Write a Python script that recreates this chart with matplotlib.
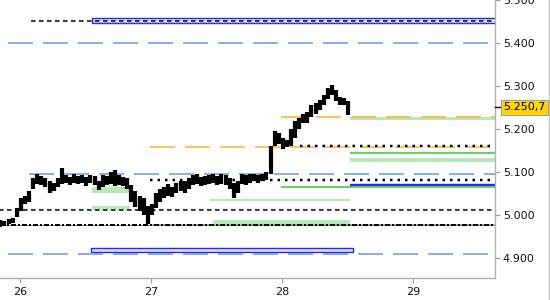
import numpy as np
import matplotlib.pyplot as plt
from matplotlib.ticker import FuncFormatter
from matplotlib.lines import Line2D

plt.rcParams['lines.scale_dashes'] = False
plt.rcParams['font.family'] = ['DejaVu Sans']

# price bars, one every 45 min starting 25.85
t0 = 25.85
step = 1 / 32
lows = [4972, 4975, 4978, 4980, 4995, 5010, 5025, 5030, 5060, 5072,
        5070, 5065, 5052, 5055, 5065, 5072, 5075, 5070, 5075, 5072,
        5075, 5068, 5075, 5070, 5058, 5065, 5070, 5072, 5068, 5070,
        5068, 5060, 5030, 5018, 5008, 5000, 4978, 5000, 5015, 5030,
        5040, 5045, 5042, 5050, 5055, 5052, 5060, 5070, 5072, 5068,
        5070, 5072, 5075, 5070, 5072, 5070, 5060, 5040, 5050, 5072,
        5070, 5075, 5078, 5075, 5078, 5082, 5095, 5160, 5165, 5153,
        5158, 5160, 5180, 5200, 5213, 5215, 5229, 5235, 5245, 5257,
        5270, 5280, 5265, 5257, 5255, 5233]
highs = [4988, 4985, 4990, 4992, 5015, 5040, 5045, 5055, 5085, 5095,
         5090, 5085, 5078, 5075, 5085, 5110, 5092, 5088, 5095, 5090,
         5092, 5088, 5092, 5090, 5080, 5092, 5090, 5100, 5105, 5092,
         5088, 5085, 5070, 5055, 5045, 5040, 5020, 5025, 5050, 5060,
         5065, 5072, 5065, 5075, 5080, 5078, 5085, 5092, 5095, 5088,
         5090, 5092, 5095, 5090, 5095, 5092, 5085, 5075, 5080, 5095,
         5092, 5095, 5095, 5092, 5095, 5100, 5160, 5195, 5190, 5178,
         5175, 5200, 5218, 5225, 5236, 5240, 5255, 5260, 5268, 5280,
         5295, 5303, 5290, 5275, 5272, 5265]
last_price = 5250.7

# horizontal levels: (value, start day, end day)
blue_dashed = [(5400, 25.8, 29.7), (5095, 26.0, 29.7), (4908, 25.8, 29.7)]
black_dashed = [(5452, 26.08, 29.7), (5011, 25.8, 29.7)]
black_dotted = [(5161, 28.14, 29.6), (5081, 26.99, 29.6)]
orange_dashed = [(5158, 26.99, 29.7), (5229, 27.99, 29.7)]
green_lines = [(5145, 28.52, 29.7), (5065, 27.99, 29.7), (4977, 26.99, 29.7)]
green_bands = [(5221, 5229, 28.52, 29.7), (5123, 5132, 28.52, 29.7),
               (5033, 5037, 27.45, 28.52), (5052, 5065, 26.55, 26.84),
               (5012, 5021, 26.55, 26.84), (4978, 4987, 27.47, 28.52)]
blue_bands = [(5448, 5458, 26.55, 29.7), (5069, 5073, 28.52, 29.7),
              (4914, 4923, 26.54, 28.54)]
dashdot_level = 4977

days = [26, 27, 28, 29]

px = 0.72  # points per pixel at dpi 100

fig = plt.figure(figsize=(5.5, 3.0), dpi=100)
ax = fig.add_axes([0, 1 - 278 / 300, 495 / 550, 278 / 300])

for lo, hi, a, b in green_bands:
    ax.fill_between([a, b], lo, hi, color='#b4ebb4', lw=0, zorder=1)
for lo, hi, a, b in blue_bands:
    ax.fill_between([a, b], lo, hi, facecolor='#dcdcf8', edgecolor='#2a2ae0',
                    lw=1.4 * px, zorder=2)
for v, a, b in green_lines:
    ax.hlines(v, a, b, color='#44c444', lw=1.6 * px, zorder=2)
for v, a, b in blue_dashed:
    ax.hlines(v, a, b, color='#6495ed', lw=1.5 * px,
              linestyles=[(-9 * px, (25 * px, 10 * px))], zorder=3)
for v, a, b in orange_dashed:
    ax.hlines(v, a, b, color='#ffb020', lw=1.5 * px,
              linestyles=[(0, (25 * px, 10 * px))], zorder=3)
for v, a, b in black_dashed:
    ax.hlines(v, a, b, color='black', lw=1.5 * px,
              linestyles=[(0, (4.5 * px, 3.5 * px))], zorder=4)
for v, a, b in black_dotted:
    ax.hlines(v, a, b, color='black', lw=2.5 * px,
              linestyles=[(0, (2.5 * px, 5 * px))], zorder=4)

ax.axhline(dashdot_level, color='#999999', lw=1 * px, zorder=3)
ax.axhline(dashdot_level, color='black', lw=2 * px,
           linestyle=(0, (5 * px, 2 * px, 2 * px, 2 * px)), zorder=4)

t = t0 + step * np.arange(len(lows))
ax.vlines(t, lows, highs, color='black', lw=4.2 * px, zorder=5)

ax.set_xlim(25.847, 29.626)
ax.set_ylim(4853, 5500.5)

for s in ['left', 'top']:
    ax.spines[s].set_visible(False)
for s in ['right', 'bottom']:
    ax.spines[s].set_color('#b0b0b0')
    ax.spines[s].set_linewidth(1.4 * px)

ax.yaxis.tick_right()
ax.set_yticks([4900, 5000, 5100, 5200, 5300, 5400, 5500])
ax.yaxis.set_major_formatter(FuncFormatter(lambda v, p: f"{v / 1000:.3f}"))
ax.set_xticks(days)
ax.set_xticklabels([str(d) for d in days])
ax.tick_params(axis='both', colors='#a0a0a0', labelcolor='#111111',
               length=5 * px, width=1.2 * px, labelsize=8, pad=2)
ax.tick_params(axis='x', pad=3)

# last price marker on the right axis
tick = Line2D([495 / 550, 500 / 550], [0, 0], color='black', lw=1.4 * px,
              transform=fig.transFigure)
yfig = ax.transData.transform((0, last_price))[1] / fig.bbox.height
tick.set_ydata([yfig, yfig])
fig.add_artist(tick)
label = f"{last_price:,.1f}".replace(',', 'X').replace('.', ',').replace('X', '.')
fig.text(503 / 550, yfig, label,
         fontsize=8, color='black', va='center', ha='left',
         bbox=dict(boxstyle='square,pad=0.22', facecolor='#ffd400',
                   edgecolor='#a0a0a0', lw=1 * px))

# right border
fig.add_artist(Line2D([548.5 / 550, 548.5 / 550], [0, 1], color='#c0c0c0',
                      lw=1.4 * px, transform=fig.transFigure))

fig.savefig('out.png', dpi=100)
